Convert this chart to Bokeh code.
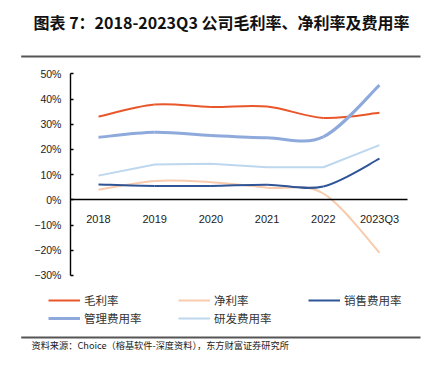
import numpy as np
from bokeh.plotting import figure
from bokeh.models import Range1d, FixedTicker, Legend, LegendItem
from bokeh.core.properties import value
from bokeh.embed import file_html
from bokeh.resources import INLINE

# ---------------- data ----------------
categories = ["2018", "2019", "2020", "2021", "2022", "2023Q3"]
gross_margin = [33.0, 37.8, 36.8, 37.0, 32.5, 34.5]      # 毛利率 %
net_margin = [4.0, 7.5, 7.0, 4.8, 2.5, -21.0]            # 净利率 %
selling_exp = [6.1, 5.5, 5.5, 6.0, 5.3, 16.3]            # 销售费用率 %
admin_exp = [24.8, 26.8, 25.5, 24.6, 25.0, 45.5]         # 管理费用率 %
rd_exp = [9.6, 14.0, 14.3, 12.9, 12.9, 21.7]             # 研发费用率 %
y_ticks = [-30, -20, -10, 0, 10, 20, 30, 40, 50]
y_tick_labels = ["−30%", "−20%", "−10%", "0%", "10%", "20%", "30%", "40%", "50%"]

title_text = "图表 7：2018-2023Q3 公司毛利率、净利率及费用率"
source_text = "资料来源：Choice（榕基软件-深度资料），东方财富证券研究所"

# ---------------- geometry helpers (canvas px -> data) ----------------
W, H = 421, 350
X0PX, XPER = 98.0, 56.2     # px of first category, px per category
Y0PX, YPER = 199.3, 2.52    # px of 0%, px per 1%


def xd(cx):
    return (cx - X0PX) / XPER


def yd(cy):
    return (Y0PX - cy) / YPER


p = figure(width=W, height=H, output_backend="svg", toolbar_location=None,
           x_range=Range1d(xd(0), xd(W)), y_range=Range1d(yd(H), yd(0)),
           min_border=0)
p.outline_line_color = None
p.xgrid.visible = False
p.ygrid.visible = False
p.background_fill_color = "white"
p.border_fill_color = "white"

xs = np.arange(len(categories), dtype=float)

# x axis at y = 0
xa = p.xaxis[0]
xa.fixed_location = 0
xa.bounds = (-0.5, len(categories) - 0.5)
xa.ticker = FixedTicker(ticks=list(xs))
xa.major_label_overrides = {i: c for i, c in enumerate(categories)}
xa.major_tick_line_color = None
xa.minor_tick_line_color = None
xa.axis_line_color = "#000000"
xa.axis_line_width = 1.4
xa.major_label_standoff = 7
xa.major_label_text_font = "Liberation Sans"
xa.major_label_text_font_size = "11px"
xa.major_label_text_color = "#222222"

# y axis at left
ya = p.yaxis[0]
ya.fixed_location = -0.5
ya.bounds = (y_ticks[0], y_ticks[-1])
ya.ticker = FixedTicker(ticks=y_ticks)
ya.major_label_overrides = {t: l for t, l in zip(y_ticks, y_tick_labels)}
ya.major_tick_in = 3
ya.major_tick_out = 0
ya.minor_tick_line_color = None
ya.axis_line_color = "#000000"
ya.major_tick_line_color = "#000000"
ya.axis_line_width = 1.4
ya.major_tick_line_width = 1.4
ya.major_label_standoff = 9
ya.major_label_text_font = "Liberation Sans"
ya.major_label_text_font_size = "10.5px"
ya.major_label_text_color = "#222222"


def smooth(series, color, width):
    y = np.asarray(series, dtype=float)
    n = len(y)
    yp = np.concatenate([[y[0]], y, [y[-1]]])
    xp = np.concatenate([[xs[0]], xs, [xs[-1]]])
    x0, y0 = xs[:-1], y[:-1]
    x1, y1 = xs[1:], y[1:]
    cx0 = x0 + (xp[2:n + 1] - xp[0:n - 1]) / 6.0
    cy0 = y0 + (yp[2:n + 1] - yp[0:n - 1]) / 6.0
    cx1 = x1 - (xp[3:n + 2] - xp[1:n]) / 6.0
    cy1 = y1 - (yp[3:n + 2] - yp[1:n]) / 6.0
    p.bezier(x0=x0, y0=y0, x1=x1, y1=y1, cx0=cx0, cy0=cy0, cx1=cx1, cy1=cy1,
             line_color=color, line_width=width)


series = [
    ("毛利率", gross_margin, "#E8562A", 2.0, True),
    ("净利率", net_margin, "#F8CBAD", 2.0, True),
    ("销售费用率", selling_exp, "#2F5597", 2.0, True),
    ("管理费用率", admin_exp, "#8EA9DB", 3.0, True),
    ("研发费用率", rd_exp, "#BDD7EE", 2.0, False),
]

items = []
for name, vals, color, lw, sm in series:
    if sm:
        smooth(vals, color, lw)
    else:
        p.line(xs, vals, line_color=color, line_width=lw)
    # legend sample renderer (a single NaN point: nothing drawn in the plot)
    leg = p.line(x=[np.nan], y=[np.nan], line_color=color, line_width=lw)
    items.append(LegendItem(label=name, renderers=[leg]))

legend = Legend(items=items, location=(48, 24), ncols=3, orientation="horizontal",
                glyph_width=32, glyph_height=16, label_width=92, label_height=16,
                label_standoff=4, spacing=2, padding=0, margin=0,
                border_line_color=None, background_fill_alpha=0,
                label_text_font="Noto Sans CJK SC", label_text_font_size="11.5px",
                label_text_color="#333333")
p.add_layout(legend)

# title
p.text(x=[xd(221)], y=[yd(21)], text=[title_text], text_align="center",
       text_baseline="middle", text_font=value("Noto Sans CJK SC"),
       text_font_size=value("16px"), text_font_style="bold", text_color="#111111")

# separators (top under the title, bottom above the source note)
p.segment(x0=[xd(20.7), xd(20.7)], y0=[yd(56), yd(337)],
          x1=[xd(420), xd(420)], y1=[yd(56), yd(337)],
          line_color="#555555", line_width=2)

# source
p.text(x=[xd(31)], y=[yd(344)], text=[source_text], text_align="left",
       text_baseline="middle", text_font=value("Noto Sans CJK SC"),
       text_font_size=value("9.2px"), text_color="#222222")

open("out.html", "w").write(file_html(p, INLINE))
